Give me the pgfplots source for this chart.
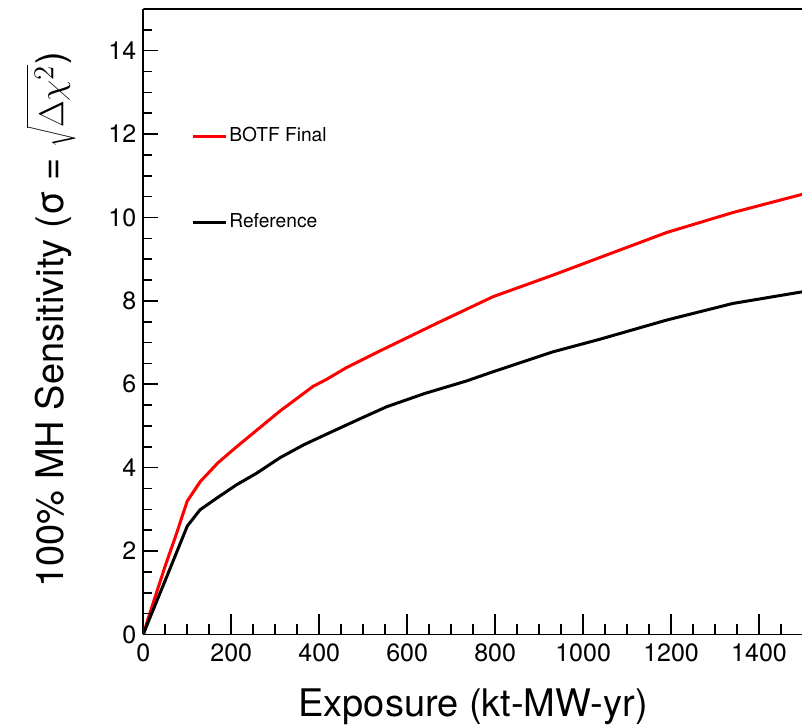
\documentclass[border=0pt]{standalone}
\usepackage{fontspec}
\setmainfont{TeX Gyre Heros}
\usepackage{pgfplots}
\pgfplotsset{compat=1.18}
\pgfplotstableread{
x y
0 0
10 0.35
50 1.65
72 2.31
100 3.20
129 3.66
170 4.12
212 4.50
258 4.90
311 5.36
386 5.95
417 6.12
462 6.40
538 6.80
667 7.46
795 8.10
932 8.62
1038 9.04
1190 9.64
1341 10.12
1500 10.56
}\botf
\pgfplotstableread{
x y
0 0
10 0.27
50 1.30
100 2.60
129 2.99
167 3.27
212 3.59
258 3.87
311 4.24
365 4.55
424 4.84
490 5.16
553 5.46
640 5.78
735 6.08
795 6.30
932 6.78
1038 7.08
1190 7.54
1341 7.94
1500 8.22
}\refdata
\begin{document}
\begin{tikzpicture}
\pgfplotsset{
  common/.style={scale only axis, width=329.85pt, height=312.75pt,
    xmin=0, xmax=1500, ymin=0, ymax=15, at={(0,0)}, anchor=south west},
}
\begin{axis}[common,
  axis lines=left, axis line style={-, line width=0.8pt, black},
  tick align=inside, tick pos=left,
  tick style={line width=0.8pt, black},
  major tick length=10pt, minor tick length=5.3pt,
  xtick={0,200,...,1400}, minor xtick={0,50,...,1450},
  ytick={0,2,...,14}, minor ytick={0,0.5,...,14.5},
  major y tick style={draw=none}, minor y tick style={draw=none},
  /pgf/number format/assume math mode=true,
  /pgf/number format/1000 sep={},
  ticklabel style={font=\fontsize{12.5}{14}\selectfont},
  xticklabel style={yshift=-1pt},
  xlabel={Exposure (kt-MW-yr)},
  xlabel style={at={(rel axis cs:0.5,0)}, anchor=base, yshift=-41.1pt, font=\fontsize{19}{22}\selectfont},
  ylabel={100\% MH Sensitivity (σ = $\sqrt{\Delta\chi^{2}}$)},
  ylabel style={at={(axis description cs:-0.1213,0.503)}, anchor=base, font=\fontsize{19}{22}\selectfont},
  legend style={at={(axis description cs:0.0723,0.8146)}, anchor=north west, draw=none, fill=none,
    inner sep=0pt, row sep=32.5pt, nodes={inner sep=1pt}, font=\fontsize{9.6}{11}\selectfont},
  legend cell align=left,
  legend image code/.code={\draw[#1, line width=1.5pt] (0pt,0pt) -- (16.5pt,0pt);},
]
\addplot[red, line width=1.5pt] table[x=x,y=y] {\botf};
\addlegendentry{BOTF Final}
\addplot[black, line width=1.5pt] table[x=x,y=y] {\refdata};
\addlegendentry{Reference}
\draw[line width=0.8pt, black] (rel axis cs:0,1) -- (rel axis cs:1,1);
\end{axis}
\begin{axis}[common,
  axis line style={draw=none},
  tick align=inside, tick pos=left,
  tick style={line width=0.8pt, black},
  major tick length=7.5pt, minor tick length=4.3pt,
  xtick=\empty,
  ytick={0,2,...,14}, minor ytick={0,0.5,...,14.5},
  yticklabels={},
]
\end{axis}
\pgfresetboundingbox
\path[use as bounding box] (-71.65pt,-45.75pt) rectangle (329.35pt,317.25pt);
\end{tikzpicture}
\end{document}
